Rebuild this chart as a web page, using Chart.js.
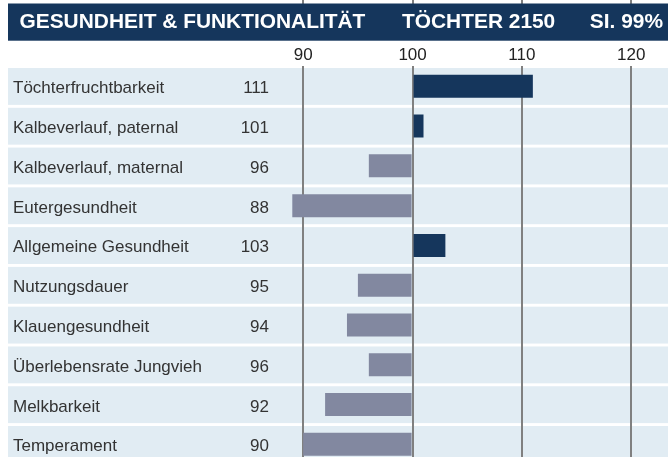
<!DOCTYPE html>
<html><head><meta charset="utf-8">
<script src="https://cdn.jsdelivr.net/npm/chart.js@4"></script>
<style>html,body{margin:0;padding:0;background:#fff;overflow:hidden;width:668px;height:457px}canvas{display:block}</style>
</head><body>
<canvas id="c" width="668" height="470"></canvas>
<script>
const categories = ['Töchterfruchtbarkeit','Kalbeverlauf, paternal','Kalbeverlauf, maternal','Eutergesundheit','Allgemeine Gesundheit','Nutzungsdauer','Klauengesundheit','Überlebensrate Jungvieh','Melkbarkeit','Temperament'];
const values = [111,101,96,88,103,95,94,96,92,90];
const tickValues = [90,100,110,120];
const tickLabels = ['90','100','110','120'];
const baseValue = 100;
const titleLeft = 'GESUNDHEIT & FUNKTIONALITÄT';
const titleMid = 'TÖCHTER 2150';
const titleRight = 'SI. 99%';

const NAVY = '#15365c';
const GREYBAR = '#8288a0';
const ROW_BG = '#e1ecf3';
const GRID = '#808080';
const FONT = '"Liberation Sans", Arial, sans-serif';

const tablePlugin = {
  id: 'table',
  beforeDraw(chart) {
    const {ctx, chartArea, scales: {y}} = chart;
    const h = (chartArea.bottom - chartArea.top) / categories.length;
    ctx.save();
    ctx.fillStyle = ROW_BG;
    categories.forEach((c, i) => {
      const cy = y.getPixelForValue(i);
      ctx.fillRect(8, cy - h / 2 + 1.6, chart.width - 8, h - 2.9);
    });
    ctx.restore();
  },
  afterDraw(chart) {
    const {ctx, scales: {x, y}} = chart;
    ctx.save();
    // row labels and values
    ctx.font = '17px ' + FONT;
    ctx.fillStyle = '#333333';
    ctx.textBaseline = 'alphabetic';
    categories.forEach((c, i) => {
      const cy = y.getPixelForValue(i);
      ctx.textAlign = 'left';
      ctx.fillText(c, 13, cy + 7);
      ctx.textAlign = 'right';
      ctx.fillText(String(values[i]), 269, cy + 7);
    });
    // small tick marks at very top
    ctx.strokeStyle = GRID;
    ctx.lineWidth = 2;
    tickValues.forEach(v => {
      const px = Math.round(x.getPixelForValue(v));
      ctx.beginPath();
      ctx.moveTo(px, 0);
      ctx.lineTo(px, 4);
      ctx.stroke();
    });
    // header band
    ctx.fillStyle = NAVY;
    ctx.fillRect(8, 3.5, chart.width - 8, 37.2);
    ctx.fillStyle = '#ffffff';
    ctx.font = 'bold 20.9px ' + FONT;
    ctx.textAlign = 'left';
    ctx.fillText(titleLeft, 19.5, 28);
    ctx.fillText(titleMid, 402, 28);
    ctx.textAlign = 'right';
    ctx.fillText(titleRight, 663, 28);
    ctx.restore();
  }
};

new Chart(document.getElementById('c'), {
  type: 'bar',
  data: {
    labels: categories,
    datasets: [{
      data: values,
      base: baseValue,
      backgroundColor: ctx => (values[ctx.dataIndex] >= baseValue ? NAVY : GREYBAR),
      borderWidth: 0,
      barPercentage: 0.578,
      categoryPercentage: 1
    }]
  },
  options: {
    indexAxis: 'y',
    responsive: false,
    animation: false,
    events: [],
    layout: {padding: {left: 292.3, right: 0, top: 0, bottom: 5.8}},
    plugins: {legend: {display: false}, tooltip: {enabled: false}},
    scales: {
      y: {display: false, grid: {display: false}},
      x: {
        type: 'linear',
        position: 'top',
        min: 89,
        max: 123.36,
        afterBuildTicks: s => { s.ticks = tickValues.map(v => ({value: v})); },
        afterFit: s => { s.height = 66.4; },
        grid: {color: GRID, lineWidth: 2, drawTicks: false, drawOnChartArea: true},
        border: {display: false},
        ticks: {
          font: {family: FONT, size: 17},
          color: '#222222',
          padding: 1,
          maxRotation: 0,
          autoSkip: false,
          callback: v => { const k = tickValues.indexOf(v); return k >= 0 ? tickLabels[k] : ''; }
        }
      }
    }
  },
  plugins: [tablePlugin]
});
</script>
</body></html>
